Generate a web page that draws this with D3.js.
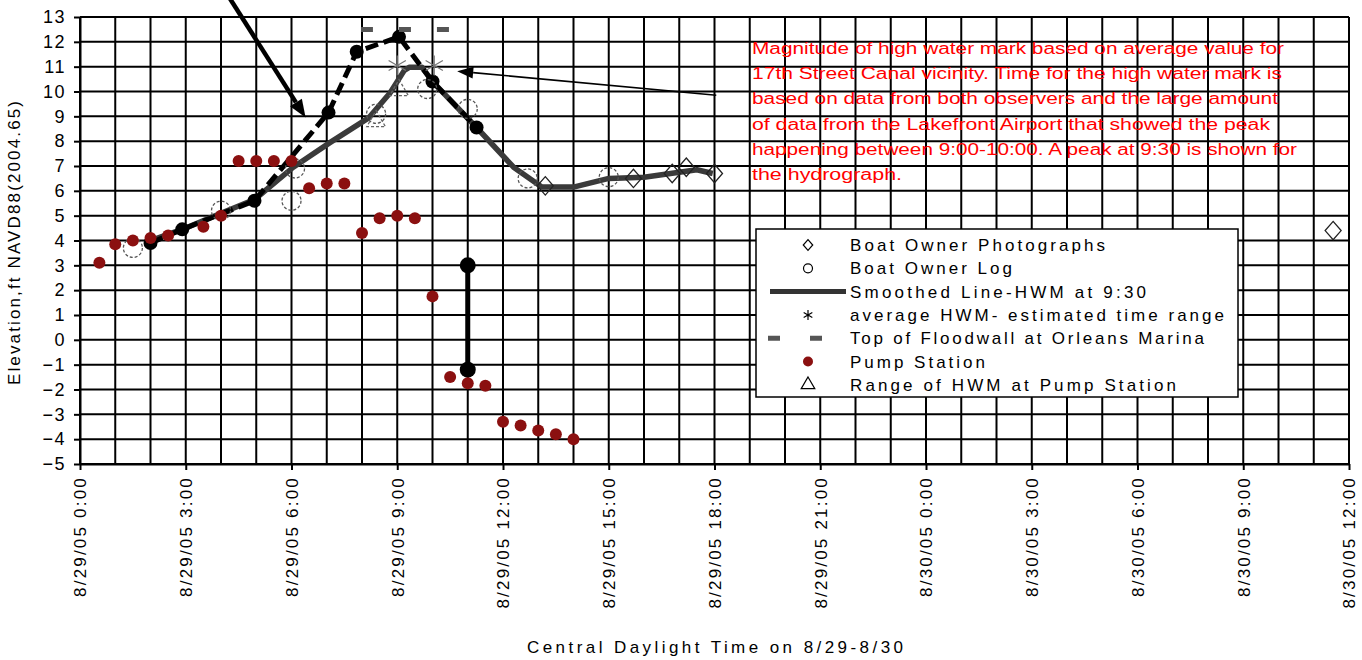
<!DOCTYPE html>
<html>
<head>
<meta charset="utf-8">
<script src="https://cdn.jsdelivr.net/npm/d3@7"></script>
<style>
  html, body { margin: 0; padding: 0; background: #fff; }
  svg { display: block; font-family: "Liberation Sans", Arial, sans-serif; }
</style>
</head>
<body>
<svg id="chart" width="1362" height="660"></svg>
<script>
// all times are hours after 8/29/05 0:00 CDT, elevations in ft NAVD88(2004.65)
const pumpHours = [0.55, 1.0, 1.5, 2.0, 2.5, 3.5, 4.0, 4.5, 5.0, 5.5, 6.0, 6.5, 7.0, 7.5, 8.0, 8.5, 9.0, 9.5, 10.0, 10.5, 11.0, 11.5, 12.0, 12.5, 13.0, 13.5, 14.0];
const pumpElev  = [3.1, 3.85, 4.0, 4.1, 4.2, 4.55, 5.0, 7.2, 7.2, 7.2, 7.2, 6.1, 6.3, 6.3, 4.3, 4.9, 5.0, 4.9, 1.75, -1.5, -1.75, -1.85, -3.3, -3.45, -3.65, -3.8, -4.0];

const smoothHours = [1.9, 3.0, 4.0, 4.95, 6.05, 7.1, 8.2, 8.8, 9.2, 9.35, 9.7, 10.0, 11.25, 12.3, 13.1, 14.0, 15.0, 16.0, 17.0, 17.5, 17.95];
const smoothElev  = [3.95, 4.5, 5.1, 5.65, 6.95, 7.95, 8.95, 9.95, 10.85, 10.98, 10.98, 10.4, 8.55, 6.95, 6.15, 6.15, 6.5, 6.55, 6.75, 6.85, 6.7];

const blackHours = [2.0, 2.9, 4.95, 7.05, 7.85, 9.05, 10.0, 11.25];
const blackElev  = [3.9, 4.45, 5.6, 9.15, 11.6, 12.2, 10.4, 8.55];

const logHours = [1.5, 4.0, 6.0, 6.1, 8.4, 9.85, 11.0, 12.7, 15.0];
const logElev  = [3.7, 5.2, 5.6, 6.9, 9.1, 10.1, 9.3, 6.5, 6.55];

const photoHours = [13.2, 15.7, 16.8, 17.2, 18.0, 35.55];
const photoElev  = [6.2, 6.5, 6.7, 6.95, 6.7, 4.4];

const triHours = [8.4, 9.05];
const triElev  = [8.8, 10.05];

const hwmHours = [9.0, 10.05];
const hwmElev  = [11.05, 11.05];

const floodHours = [7.97, 10.52];
const floodElev  = [12.5, 12.5];

const pumpRangeHours = [11.0, 11.0];
const pumpRangeElev  = [3.0, -1.2];

const arrowBig   = [[4.25, 13.75], [6.4, 8.95]];
const arrowThin  = [[18.05, 9.85], [10.7, 10.82]];

const yTicks = d3.range(-5, 14);

const legendLabels = [
  "Boat Owner Photographs",
  "Boat Owner Log",
  "Smoothed Line-HWM at 9:30",
  "average HWM- estimated time range",
  "Top of Floodwall at Orleans Marina",
  "Pump Station",
  "Range of HWM at Pump Station"
];

const noteLines = [
  "Magnitude of high water mark based on average value for",
  "17th Street Canal vicinity. Time for the high water mark is",
  "based on data from both observers and the large amount",
  "of data from the Lakefront Airport that showed the peak",
  "happening between 9:00-10:00. A peak at 9:30 is shown for",
  "the hydrograph."
];

const t0 = Date.UTC(2005, 7, 29, 0, 0);
const toDate = h => new Date(t0 + h * 3600e3);

const pL = 80, pR = 1349, pT = 17, pB = 464;
const x = d3.scaleUtc().domain([toDate(0), toDate(36)]).range([pL, pR]);
const y = d3.scaleLinear().domain([-5, 13]).range([pB, pT]);

const svg = d3.select("#chart");
const pts = (hs, vs) => hs.map((h, i) => [toDate(h), vs[i]]);
const lineGen = d3.line().x(d => x(d[0])).y(d => y(d[1]));

// grid
const grid = svg.append("g").attr("stroke", "#000").attr("stroke-width", 2);
grid.selectAll(".gv").data(x.ticks(d3.utcHour.every(1))).join("line")
  .attr("x1", d => x(d)).attr("x2", d => x(d))
  .attr("y1", pT).attr("y2", pB);
grid.selectAll(".gh").data(yTicks).join("line")
  .attr("x1", pL).attr("x2", pR)
  .attr("y1", d => y(d)).attr("y2", d => y(d));

// axes
const yAxis = svg.append("g").attr("transform", `translate(${pL},0)`)
  .call(d3.axisLeft(y).tickValues(yTicks).tickSize(6).tickSizeOuter(0).tickPadding(8));
yAxis.selectAll("text").attr("font-size", 18).attr("letter-spacing", "1.5px")
  .attr("font-family", "Liberation Sans, Arial, sans-serif").attr("fill", "#000");

const xAxis = svg.append("g").attr("transform", `translate(0,${pB})`)
  .call(d3.axisBottom(x).tickValues(x.ticks(d3.utcHour.every(3)))
    .tickFormat(d3.utcFormat("%-m/%d/%y %-H:%M")).tickSize(6).tickSizeOuter(0));
xAxis.selectAll("text")
  .attr("transform", "rotate(-90)")
  .attr("text-anchor", "end")
  .attr("x", -12).attr("y", 0).attr("dy", "0.35em")
  .attr("font-size", 17).attr("letter-spacing", "2.2px")
  .attr("font-family", "Liberation Sans, Arial, sans-serif").attr("fill", "#000");
svg.selectAll(".domain, .tick line").attr("stroke", "#000").attr("stroke-width", 2);

svg.append("text")
  .attr("transform", "translate(20,243) rotate(-90)")
  .attr("text-anchor", "middle").attr("font-size", 17)
  .attr("textLength", 284).attr("lengthAdjust", "spacing")
  .text("Elevation,ft NAVD88(2004.65)");

svg.append("text")
  .attr("x", 527).attr("y", 653).attr("font-size", 17)
  .attr("textLength", 376).attr("lengthAdjust", "spacing")
  .text("Central Daylight Time on 8/29-8/30");

// note text
const noteWidths = [532, 530, 526, 518, 545, 150];
svg.append("g").attr("fill", "#f00").attr("font-size", 16)
  .selectAll("text").data(noteLines).join("text")
  .attr("x", 752).attr("y", (d, i) => 54 + i * 25.2)
  .attr("textLength", (d, i) => noteWidths[i]).attr("lengthAdjust", "spacingAndGlyphs")
  .text(d => d);

// series
const plot = svg.append("g");

plot.append("path").datum(pts(smoothHours, smoothElev))
  .attr("d", lineGen).attr("fill", "none")
  .attr("stroke", "#3a3a3a").attr("stroke-width", 5.5).attr("stroke-linejoin", "round");

plot.append("path").datum(pts(blackHours, blackElev))
  .attr("d", lineGen).attr("fill", "none")
  .attr("stroke", "#000").attr("stroke-width", 5).attr("stroke-dasharray", "13,6");
plot.selectAll(".bk").data(pts(blackHours, blackElev)).join("circle")
  .attr("cx", d => x(d[0])).attr("cy", d => y(d[1])).attr("r", 7).attr("fill", "#000");

plot.append("path").datum(pts(floodHours, floodElev))
  .attr("d", lineGen).attr("fill", "none")
  .attr("stroke", "#555").attr("stroke-width", 5).attr("stroke-dasharray", "12,26");

plot.append("path").datum(pts(pumpRangeHours, pumpRangeElev))
  .attr("d", lineGen).attr("fill", "none").attr("stroke", "#000").attr("stroke-width", 5);
plot.selectAll(".pr").data(pts(pumpRangeHours, pumpRangeElev)).join("circle")
  .attr("cx", d => x(d[0])).attr("cy", d => y(d[1])).attr("r", 8).attr("fill", "#000");

const diamond = {
  draw(ctx, size) {
    const r = Math.sqrt(size) / 2;
    ctx.moveTo(0, -r * 1.15); ctx.lineTo(r, 0); ctx.lineTo(0, r * 1.15); ctx.lineTo(-r, 0); ctx.closePath();
  }
};

plot.selectAll(".log").data(pts(logHours, logElev)).join("circle")
  .attr("cx", d => x(d[0])).attr("cy", d => y(d[1])).attr("r", 9.5)
  .attr("fill", "none").attr("stroke", "#555").attr("stroke-width", 1.3).attr("stroke-dasharray", "3,2");

plot.selectAll(".tri").data(pts(triHours, triElev)).join("path")
  .attr("transform", d => `translate(${x(d[0])},${y(d[1])})`)
  .attr("d", d3.symbol(d3.symbolTriangle, 150))
  .attr("fill", "none").attr("stroke", "#666").attr("stroke-width", 1.3).attr("stroke-dasharray", "3,2");

plot.selectAll(".hwm").data(pts(hwmHours, hwmElev)).join("path")
  .attr("transform", d => `translate(${x(d[0])},${y(d[1])})`)
  .attr("d", d3.symbol(d3.symbolAsterisk, 280))
  .attr("fill", "none").attr("stroke", "#777").attr("stroke-width", 1.2);

plot.selectAll(".pump").data(pts(pumpHours, pumpElev)).join("circle")
  .attr("cx", d => x(d[0])).attr("cy", d => y(d[1])).attr("r", 6).attr("fill", "#8b1010");

plot.selectAll(".photo").data(pts(photoHours, photoElev)).join("path")
  .attr("transform", d => `translate(${x(d[0])},${y(d[1])})`)
  .attr("d", d3.symbol(diamond, 256))
  .attr("fill", "none").attr("stroke", "#222").attr("stroke-width", 1.3);

// annotation arrows
function arrow(from, to, width, headLen, headW) {
  const x1 = x(toDate(from[0])), y1 = y(from[1]);
  const x2 = x(toDate(to[0])), y2 = y(to[1]);
  const a = Math.atan2(y2 - y1, x2 - x1);
  const bx = x2 - headLen * Math.cos(a), by = y2 - headLen * Math.sin(a);
  const nx = Math.sin(a) * headW / 2, ny = -Math.cos(a) * headW / 2;
  svg.append("line").attr("x1", x1).attr("y1", y1).attr("x2", bx).attr("y2", by)
    .attr("stroke", "#000").attr("stroke-width", width);
  svg.append("path").attr("d", `M${x2},${y2}L${bx + nx},${by + ny}L${bx - nx},${by - ny}Z`).attr("fill", "#000");
}
arrow(arrowBig[0], arrowBig[1], 4.5, 18, 14);
arrow(arrowThin[0], arrowThin[1], 1.6, 16, 12);

// legend
const lg = svg.append("g");
lg.append("rect").attr("x", 756).attr("y", 229).attr("width", 482).attr("height", 168)
  .attr("fill", "#fff").attr("stroke", "#000").attr("stroke-width", 1.5);
const rowY = i => 245 + i * 23.3;
const legendWidths = [255, 162, 296, 374, 354, 135, 326];
lg.selectAll("text").data(legendLabels).join("text")
  .attr("x", 850).attr("y", (d, i) => rowY(i) + 6).attr("font-size", 17)
  .attr("textLength", (d, i) => legendWidths[i]).attr("lengthAdjust", "spacing")
  .text(d => d);
const sx = 808;
lg.append("path").attr("transform", `translate(${sx},${rowY(0)})`)
  .attr("d", d3.symbol(diamond, 90)).attr("fill", "none").attr("stroke", "#000").attr("stroke-width", 1.2);
lg.append("circle").attr("cx", sx).attr("cy", rowY(1)).attr("r", 4.5)
  .attr("fill", "none").attr("stroke", "#000").attr("stroke-width", 1.2);
lg.append("line").attr("x1", 770).attr("x2", 846).attr("y1", rowY(2)).attr("y2", rowY(2))
  .attr("stroke", "#333").attr("stroke-width", 5);
lg.append("path").attr("transform", `translate(${sx},${rowY(3)})`)
  .attr("d", d3.symbol(d3.symbolAsterisk, 70)).attr("fill", "none").attr("stroke", "#000").attr("stroke-width", 1.2);
lg.append("line").attr("x1", 768).attr("x2", 822).attr("y1", rowY(4)).attr("y2", rowY(4))
  .attr("stroke", "#555").attr("stroke-width", 5).attr("stroke-dasharray", "12,30");
lg.append("circle").attr("cx", sx).attr("cy", rowY(5)).attr("r", 5).attr("fill", "#8b1010");
lg.append("path").attr("transform", `translate(${sx},${rowY(6)})`)
  .attr("d", d3.symbol(d3.symbolTriangle, 80)).attr("fill", "none").attr("stroke", "#000").attr("stroke-width", 1.2);
</script>
</body>
</html>
